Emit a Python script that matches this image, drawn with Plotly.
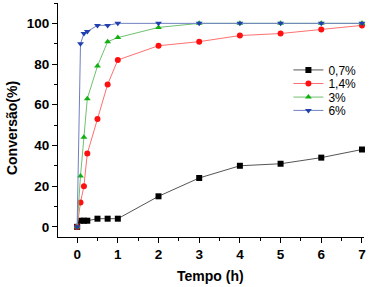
import plotly.graph_objects as go

tempo = [0, 0.083, 0.167, 0.25, 0.5, 0.75, 1, 2, 3, 4, 5, 6, 7]
conv_07 = [0, 3, 3, 3, 4, 4, 4, 15, 24, 30, 31, 34, 38]
conv_14 = [0, 12, 20, 36, 53, 70, 82, 89, 91, 94, 95, 97, 99]
conv_3 = [0, 25, 44, 63, 79, 91, 93, 98, 100, 100, 100, 100, 100]
conv_6 = [0, 90, 95, 96, 99, 99, 100, 100, 100, 100, 100, 100, 100]

series = [
    ("0,7%", conv_07, "#000000", "#555555", "square"),
    ("1,4%", conv_14, "#ff1010", "#ff7070", "circle"),
    ("3%", conv_3, "#10b010", "#70c070", "triangle-up"),
    ("6%", conv_6, "#2040b0", "#7080c0", "triangle-down"),
]

legend_names = ["legend", "legend2", "legend3", "legend4"]
legend_y = [0.714, 0.656, 0.598, 0.541]

fig = go.Figure()
for (name, ys, mc, lc, sym), lg in zip(series, legend_names):
    fig.add_trace(go.Scatter(
        x=tempo, y=ys, name=name, mode="lines+markers",
        line=dict(color=lc, width=1),
        marker=dict(color=mc, symbol=sym, size=6),
        cliponaxis=False, legend=lg,
    ))

xticks = [0, 1, 2, 3, 4, 5, 6, 7]
yticks = [0, 20, 40, 60, 80, 100]

legend_common = dict(x=0.753, xanchor="left", yanchor="middle",
                     font=dict(size=12), bgcolor="rgba(0,0,0,0)", itemwidth=30)
layout_legends = {lg: dict(legend_common, y=yy) for lg, yy in zip(legend_names, legend_y)}

fig.update_layout(
    width=371, height=287,
    margin=dict(l=58, r=7, t=3, b=50),
    plot_bgcolor="white", paper_bgcolor="white",
    font=dict(family="Liberation Sans, Arial", color="black"),
    showlegend=True,
    **layout_legends,
    annotations=[
        dict(text="<b>Conversão(%)</b>", xref="paper", yref="paper", x=-0.150, y=0.466,
             textangle=-90, showarrow=False, font=dict(size=14), xanchor="center", yanchor="middle"),
        dict(text="<b>Tempo (h)</b>", xref="paper", yref="paper", x=0.497, y=-0.167,
             showarrow=False, font=dict(size=14), xanchor="center", yanchor="middle"),
    ],
)
fig.update_xaxes(
    range=[-0.47, 7.05], showgrid=False, zeroline=False, automargin=False,
    showline=True, linecolor="black", linewidth=1,
    tickmode="array", tickvals=xticks, ticktext=["<b>%d</b>" % v for v in xticks],
    ticks="outside", ticklen=5, tickcolor="black",
    minor=dict(tickvals=[0.5, 1.5, 2.5, 3.5, 4.5, 5.5, 6.5], ticks="outside", ticklen=3, tickcolor="black"),
    tickfont=dict(size=13.5),
)
fig.update_yaxes(
    range=[-5, 110], showgrid=False, zeroline=False, automargin=False,
    showline=True, linecolor="black", linewidth=1,
    tickmode="array", tickvals=yticks, ticktext=["<b>%d</b>" % v for v in yticks],
    ticks="outside", ticklen=5, tickcolor="black",
    minor=dict(tickvals=[10, 30, 50, 70, 90, 110], ticks="outside", ticklen=3, tickcolor="black"),
    tickfont=dict(size=13.5),
)

fig.write_html("out.html", config={"displayModeBar": False},
               post_script="document.body.style.margin='0';document.body.style.overflow='hidden';")
